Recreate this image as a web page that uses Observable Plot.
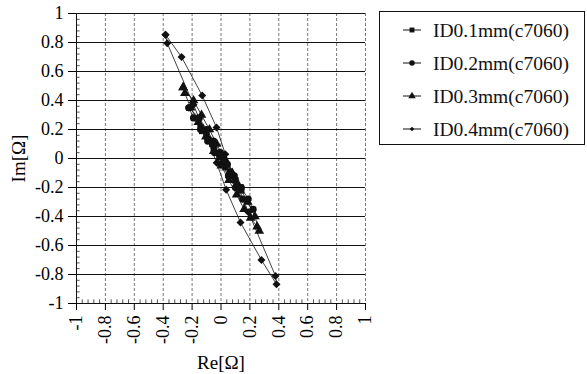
<!DOCTYPE html>
<html><head><meta charset="utf-8">
<script src="https://cdn.jsdelivr.net/npm/d3@7"></script>
<script src="https://cdn.jsdelivr.net/npm/@observablehq/plot@0.6"></script>
<style>
html,body{margin:0;padding:0;background:#fff;}
</style>
</head><body><div id="chart"></div>
<script>
// ---- data ----
const seriesNames = ["ID0.1mm(c7060)", "ID0.2mm(c7060)", "ID0.3mm(c7060)", "ID0.4mm(c7060)"];
const seriesSymbols = ["square", "circle", "triangle", "diamond2"];

const sqRe = [-0.14, -0.10, -0.06, -0.02, 0.02, 0.06, 0.10, 0.135, 0.14, 0.11, 0.07, 0.03, -0.01, -0.05, -0.09, -0.13, -0.14];
const sqIm = [0.21, 0.16, 0.10, 0.04, -0.03, -0.09, -0.15, -0.20, -0.22, -0.18, -0.12, -0.06, 0.01, 0.07, 0.13, 0.19, 0.21];

const ciRe = [-0.222, -0.15, -0.10, -0.052, -0.004, 0.044, 0.092, 0.14, 0.188, 0.222, 0.15, 0.10, 0.052, 0.004, -0.044, -0.092, -0.14, -0.19, -0.222];
const ciIm = [0.35, 0.28, 0.20, 0.12, 0.04, -0.04, -0.12, -0.20, -0.28, -0.35, -0.28, -0.20, -0.12, -0.04, 0.04, 0.12, 0.20, 0.28, 0.35];

const trRe = [-0.262, -0.19, -0.135, -0.08, -0.03, 0.025, 0.078, 0.13, 0.185, 0.235, 0.265, 0.25, 0.205, 0.16, 0.108, 0.055, 0.002, -0.05, -0.104, -0.157, -0.21, -0.25, -0.262];
const trIm = [0.49, 0.40, 0.30, 0.20, 0.10, 0.0, -0.10, -0.20, -0.30, -0.40, -0.50, -0.47, -0.41, -0.35, -0.25, -0.15, -0.05, 0.05, 0.15, 0.25, 0.35, 0.45, 0.49];

const diRe = [-0.384, -0.273, -0.13, -0.031, 0.03, 0.10, 0.19, 0.377, 0.384, 0.28, 0.135, 0.036, -0.03, -0.10, -0.19, -0.372, -0.384];
const diIm = [0.853, 0.70, 0.434, 0.214, 0.03, -0.15, -0.37, -0.81, -0.867, -0.70, -0.441, -0.216, -0.03, 0.15, 0.37, 0.795, 0.853];

const xTicks = [-1, -0.8, -0.6, -0.4, -0.2, 0, 0.2, 0.4, 0.6, 0.8, 1];
const yTicks = [-1, -0.8, -0.6, -0.4, -0.2, 0, 0.2, 0.4, 0.6, 0.8, 1];
const xLabel = "Re[Ω]";
const yLabel = "Im[Ω]";

// ---- build table ----
const allRe = [sqRe, ciRe, trRe, diRe];
const allIm = [sqIm, ciIm, trIm, diIm];
const rows = [];
allRe.forEach((re, i) => re.forEach((r, j) => rows.push({series: seriesNames[i], re: r, im: allIm[i][j]})));

const minor = d3.range(-1, 1.0001, 0.04).map(v => +v.toFixed(2)).filter(v => Math.abs(Math.round(v / 0.2) * 0.2 - v) > 1e-6);

const serif = "'Liberation Serif', 'Times New Roman', serif";

const plot = Plot.plot({
  width: 587,
  height: 374,
  marginLeft: 76,
  marginRight: 222,
  marginTop: 13,
  marginBottom: 71,
  style: {fontFamily: serif, fontSize: "18px", background: "white", color: "black", overflow: "visible"},
  x: {domain: [-1, 1]},
  y: {domain: [-1, 1]},
  symbol: {domain: seriesNames, range: seriesSymbols},
  marks: [
    Plot.ruleX(xTicks.filter(d => d > -1), {stroke: "#777", strokeWidth: 1, strokeDasharray: "3,2"}),
    Plot.ruleY(yTicks, {stroke: "#111", strokeWidth: 1}),
    Plot.ruleX([-1], {stroke: "#111", strokeWidth: 1}),
    Plot.ruleY(minor, {x1: -1, x2: -0.975, stroke: "#222", strokeWidth: 0.8}),
    Plot.ruleX(minor, {y1: -1, y2: -0.975, stroke: "#222", strokeWidth: 0.8}),
    Plot.axisY({ticks: yTicks, tickFormat: d => String(d), tickSize: 8, tickPadding: 5, fontSize: 18, label: null}),
    Plot.axisX({ticks: xTicks, tickFormat: d => String(d), tickRotate: -90, tickSize: 7, tickPadding: 5, fontSize: 18, label: null}),
    Plot.text([yLabel], {frameAnchor: "left", dx: -58, rotate: -90, fontSize: 19, textAnchor: "middle", lineAnchor: "middle"}),
    Plot.text([xLabel], {frameAnchor: "bottom", dy: 59, fontSize: 19, textAnchor: "middle", lineAnchor: "middle"}),
    Plot.line(rows, {x: "re", y: "im", z: "series", stroke: "#111", strokeWidth: 0.8}),
    Plot.dot(rows, {x: "re", y: "im", symbol: "series", fill: "#111", stroke: "none", r: 3.6})
  ]
});
document.getElementById("chart").appendChild(plot);

// ---- legend ----
const d3Sym = {square: d3.symbolSquare, circle: d3.symbolCircle, triangle: d3.symbolTriangle, diamond2: d3.symbolDiamond2};
const svg = d3.select(plot.tagName.toLowerCase() === "svg" ? plot : plot.querySelector("svg"));
const g = svg.append("g").attr("font-family", serif).attr("font-size", 19.5).attr("text-anchor", "start");
g.append("rect").attr("x", 379.5).attr("y", 11.5).attr("width", 205).attr("height", 133)
  .attr("fill", "white").attr("stroke", "#111").attr("stroke-width", 1);
seriesNames.forEach((name, i) => {
  const y = 30 + i * 33;
  g.append("line").attr("x1", 403).attr("x2", 421).attr("y1", y).attr("y2", y).attr("stroke", "#111").attr("stroke-width", 1);
  g.append("path").attr("d", d3.symbol(d3Sym[seriesSymbols[i]], i === 3 ? 14 : 24)()).attr("transform", `translate(412,${y})`).attr("fill", "#111");
  g.append("text").attr("x", 433).attr("y", y).attr("dy", "0.35em").attr("text-anchor", "start").attr("fill", "#111").text(name);
});
</script>
</body></html>
